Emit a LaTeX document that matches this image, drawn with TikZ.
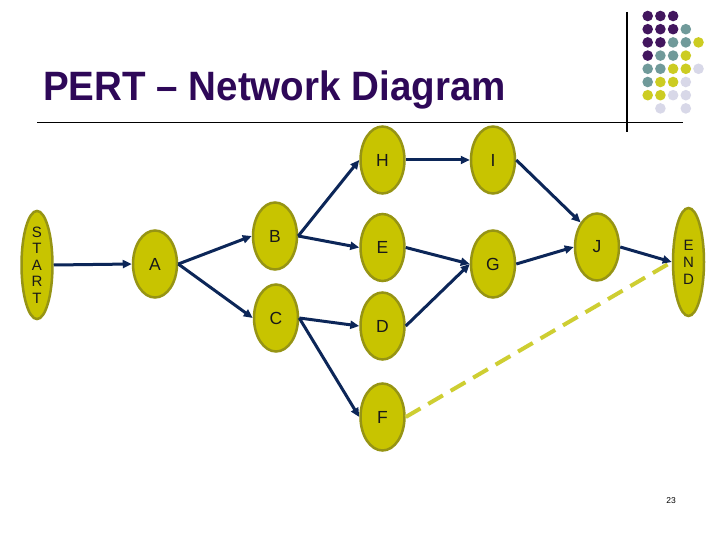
\documentclass[tikz,border=0pt]{standalone}
\usepackage{fontspec}
\setmainfont{Liberation Sans}
\usetikzlibrary{shapes.geometric,arrows.meta}
\definecolor{titlepurple}{RGB}{46,8,88}
\definecolor{dotpurple}{RGB}{66,22,94}
\definecolor{dotteal}{RGB}{112,154,154}
\definecolor{dotyellow}{RGB}{204,204,34}
\definecolor{dotlav}{RGB}{216,216,232}
\definecolor{nodefill}{RGB}{200,196,0}
\definecolor{nodeedge}{RGB}{150,148,20}
\definecolor{navy}{RGB}{12,38,88}
\definecolor{dashyellow}{RGB}{206,206,50}
\tikzset{
  evt/.style={ellipse, draw=nodeedge, fill=nodefill, line width=2.5pt,
    minimum width=44pt, minimum height=67pt, inner sep=0pt,
    font=\fontsize{17.5}{17.5}\selectfont, text=black!90},
  tallevt/.style={evt, minimum width=31pt, minimum height=108pt,
    font=\fontsize{15}{16.5}\selectfont, align=center},
  conn/.style={draw=navy, line width=3pt,
    -{Triangle[length=9pt,width=8pt]}},
  dummy/.style={draw=dashyellow, line width=4pt, dash pattern=on 17pt off 9pt},
  dotP/.style={fill=dotpurple},
  dotT/.style={fill=dotteal},
  dotY/.style={fill=dotyellow},
  dotL/.style={fill=dotlav}
}
\begin{document}
\begin{tikzpicture}[x=1pt,y=-1pt]
\useasboundingbox (0,0) rectangle (720,540);
\fill[white] (0,0) rectangle (720,540);
% decoration
\draw[line width=1.5pt] (37,122.5) -- (683,122.5);
\draw[line width=1.5pt] (627,12) -- (627,132);
\foreach \r/\row in {0/{P,P,P},1/{P,P,P,T},2/{P,P,T,T,Y},3/{P,T,T,Y},4/{T,T,Y,Y,L},5/{T,Y,Y,L},6/{Y,Y,L,L}}{
  \foreach \c [count=\j from 0] in \row {
    \fill[dot\c] (647.7+12.7*\j, 16+13.2*\r) circle (5.3pt);
  }
}
\fill[dotL] (660.4,108.4) circle (5.3pt);
\fill[dotL] (685.8,108.4) circle (5.3pt);
% title
\node[anchor=base west, inner sep=0pt, text=titlepurple, xscale=0.94,
  font=\fontsize{41}{41}\selectfont\bfseries] (title) at (43,100.5) {PERT – Network Diagram};
% nodes
\node[tallevt] (start) at (37,265) {S\\T\\A\\R\\T};
\node[evt] (a) at (155,264) {A};
\node[evt] (b) at (275,236) {B};
\node[evt] (c) at (276,318) {C};
\node[evt] (h) at (382.5,160) {H};
\node[evt] (e) at (382.5,247.5) {E};
\node[evt] (d) at (382.5,326) {D};
\node[evt] (f) at (382.5,417) {F};
\node[evt] (i) at (493,160) {I};
\node[evt] (g) at (493,264) {G};
\node[evt] (j) at (597,247) {J};
\node[tallevt, font=\fontsize{15}{17}\selectfont] (end) at (688.5,262) {E\\N\\D};
% connectors
\draw[dummy] (f.east) -- (end.west);
\draw[conn] (start.east) -- (a.west);
\draw[conn] (a.east) -- (b.west);
\draw[conn] (a.east) -- (c.west);
\draw[conn] (b.east) -- (h.west);
\draw[conn] (b.east) -- (e.west);
\draw[conn] (c.east) -- (d.west);
\draw[conn] (c.east) -- (f.west);
\draw[conn] (h.east) -- (i.west);
\draw[conn] (e.east) -- (g.west);
\draw[conn] (d.east) -- (g.west);
\draw[conn] (i.east) -- (j.north west);
\draw[conn] (g.east) -- (j.west);
\draw[conn] (j.east) -- (end.west);
% page number
\node[font=\fontsize{8.5}{9}\selectfont] (pnum) at (671,501) {23};
\end{tikzpicture}
\end{document}
